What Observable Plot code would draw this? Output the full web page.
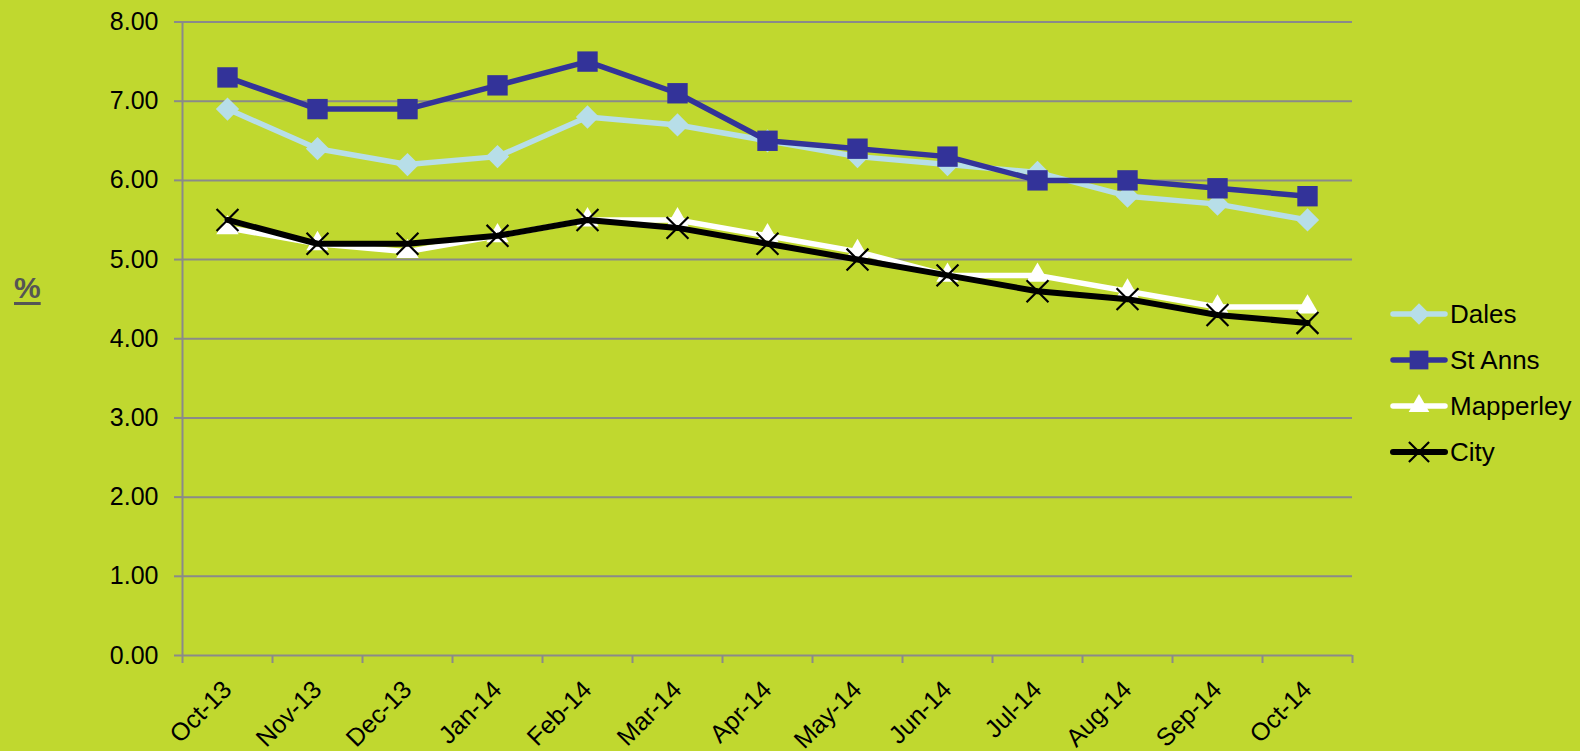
<!DOCTYPE html>
<html><head><meta charset="utf-8">
<script src="https://cdn.jsdelivr.net/npm/d3@7"></script>
<script src="https://cdn.jsdelivr.net/npm/@observablehq/plot@0.6"></script>
<style>
html,body{margin:0;padding:0;background:#c0d82f;width:1580px;height:751px;overflow:hidden;font-family:"Liberation Sans",Arial,sans-serif;}
#wrap{position:relative;width:1580px;height:751px;}
#chart{position:absolute;left:0;top:0;}
#ylabel{position:absolute;left:14px;top:273px;font-weight:bold;font-size:30px;line-height:30px;color:#555;text-decoration:underline;text-decoration-thickness:3px;text-underline-offset:4px;}
#legend{position:absolute;left:1390px;top:0;}
.item{position:absolute;left:0;display:flex;align-items:center;height:30px;font-size:26px;color:#000;white-space:nowrap;}
.item span{margin-left:2px;}
</style></head>
<body><div id="wrap"><div id="chart"></div><div id="ylabel">%</div><div id="legend"></div></div>
<script>
const months = ["Oct-13","Nov-13","Dec-13","Jan-14","Feb-14","Mar-14","Apr-14","May-14","Jun-14","Jul-14","Aug-14","Sep-14","Oct-14"];
const dales     = [6.9, 6.4, 6.2, 6.3, 6.8, 6.7, 6.5, 6.3, 6.2, 6.1, 5.8, 5.7, 5.5];
const stAnns    = [7.3, 6.9, 6.9, 7.2, 7.5, 7.1, 6.5, 6.4, 6.3, 6.0, 6.0, 5.9, 5.8];
const mapperley = [5.4, 5.2, 5.1, 5.3, 5.5, 5.5, 5.3, 5.1, 4.8, 4.8, 4.6, 4.4, 4.4];
const city      = [5.5, 5.2, 5.2, 5.3, 5.5, 5.4, 5.2, 5.0, 4.8, 4.6, 4.5, 4.3, 4.2];
const seriesNames = ["Dales", "St Anns", "Mapperley", "City"];
const seriesValues = [dales, stAnns, mapperley, city];
const yTicks = [0, 1, 2, 3, 4, 5, 6, 7, 8];

const styles = {
  "Dales":     {color: "#b7dee8", symbol: "diamond2", d3sym: d3.symbolDiamond2, r: 10.5, width: 5.5},
  "St Anns":   {color: "#333399", symbol: "square",   d3sym: d3.symbolSquare,   r: 11.5, width: 5.5},
  "Mapperley": {color: "#ffffff", symbol: "triangle", d3sym: d3.symbolTriangle, r: 8.3, width: 5.5},
  "City":      {color: "#000000", symbol: "times",    d3sym: d3.symbolTimes,    r: 10, width: 6}
};
const grid = "#8a8a8a";

const rows = seriesNames.flatMap((s, k) => seriesValues[k].map((v, i) => ({i, month: months[i], value: v, series: s})));

const seriesMarks = seriesNames.flatMap(s => {
  const st = styles[s];
  const data = rows.filter(d => d.series === s);
  const dotOpts = st.symbol === "times"
    ? {x: "i", y: "value", symbol: st.symbol, r: st.r, stroke: st.color, strokeWidth: 2.2, fill: "none"}
    : {x: "i", y: "value", symbol: st.symbol, r: st.r, fill: st.color, stroke: "none"};
  return [
    Plot.line(data, {x: "i", y: "value", stroke: st.color, strokeWidth: st.width, strokeLinejoin: "round", strokeLinecap: "round"}),
    Plot.dot(data, dotOpts)
  ];
});

const chart = Plot.plot({
  width: 1580,
  height: 751,
  marginLeft: 182,
  marginRight: 228,
  marginTop: 21.5,
  marginBottom: 96,
  style: {background: "transparent", fontFamily: "'Liberation Sans', Arial, sans-serif", fontSize: "25px", color: "#000", overflow: "visible"},
  x: {type: "linear", domain: [-0.5, months.length - 0.5], label: null},
  y: {domain: [0, 8], label: null},
  marks: [
    Plot.ruleY(yTicks, {stroke: grid, strokeWidth: 2}),
    Plot.ruleX([-0.5], {stroke: grid, strokeWidth: 2}),
    Plot.axisY({ticks: yTicks, tickFormat: d => d.toFixed(2), tickSize: 8, tickPadding: 16, stroke: grid, strokeWidth: 2, fill: "#000", fontSize: 25, label: null}),
    Plot.axisX({ticks: d3.range(-0.5, months.length, 1), tickSize: 8, tickFormat: () => "", stroke: grid, strokeWidth: 2, label: null}),
    Plot.text(months.map((m, i) => ({i, m})), {x: "i", text: "m", frameAnchor: "bottom", rotate: -45, textAnchor: "end", lineAnchor: "middle", dx: 0, dy: 30, fontSize: 25, fill: "#000"}),
    ...seriesMarks
  ]
});
document.getElementById("chart").appendChild(chart);

// Legend
const legend = document.getElementById("legend");
seriesNames.forEach((s, k) => {
  const st = styles[s];
  const cy = 314 + k * 46;
  const item = document.createElement("div");
  item.className = "item";
  item.style.top = (cy - 15) + "px";
  const svg = d3.create("svg").attr("width", 58).attr("height", 30);
  svg.append("line").attr("x1", 3).attr("x2", 55).attr("y1", 15).attr("y2", 15)
    .attr("stroke", st.color).attr("stroke-width", st.width).attr("stroke-linecap", "round");
  const path = d3.symbol(st.d3sym, Math.PI * st.r * st.r * 0.85)();
  const p = svg.append("path").attr("d", path).attr("transform", "translate(29,15)");
  if (st.symbol === "times") p.attr("fill", "none").attr("stroke", st.color).attr("stroke-width", 2.2);
  else p.attr("fill", st.color);
  item.appendChild(svg.node());
  const t = document.createElement("span");
  t.textContent = s;
  item.appendChild(t);
  legend.appendChild(item);
});
</script>
</body></html>
